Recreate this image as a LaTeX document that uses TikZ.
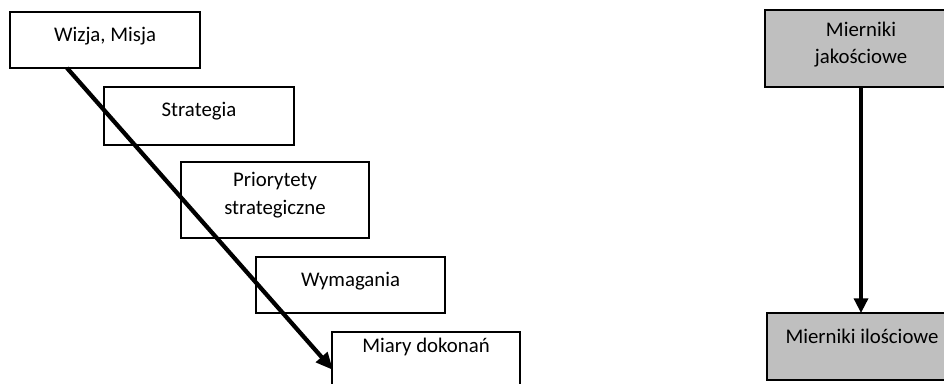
\documentclass[tikz,border=0pt]{standalone}
\usepackage{fontspec}
\setmainfont{Carlito}
\usetikzlibrary{arrows.meta,calc}
\definecolor{boxgray}{RGB}{191,191,191}
\newcommand\pxl[1]{#1*0.75pt}
\begin{document}
\begin{tikzpicture}[x=0.75pt,y=-0.75pt,
  box/.style={draw=black,line width=1.1pt,fill=white,anchor=north west,inner sep=0pt,outer sep=0pt},
  gbox/.style={box,fill=boxgray},
  lbl/.style={font=\fontsize{15.6}{20.6}\selectfont,align=center,anchor=north,inner sep=0pt,execute at begin node=\strut},
  diagarrow/.style={line width=3.2pt,-{Triangle[length=13pt,width=11pt]}},
  vertarrow/.style={line width=2.5pt,-{Triangle[length=11pt,width=10.5pt]}}
]
\clip (0,0) rectangle (944,383);
\fill[white] (0,0) rectangle (944,383);

\node[box,minimum width=\pxl{190},minimum height=\pxl{56}] (wizja) at (10,12) {};
\node[box,minimum width=\pxl{190},minimum height=\pxl{58}] (strat) at (104,87) {};
\node[box,minimum width=\pxl{188},minimum height=\pxl{76}] (prior) at (181,162) {};
\node[box,minimum width=\pxl{189},minimum height=\pxl{56}] (wym) at (256,257) {};
\node[box,minimum width=\pxl{188},minimum height=\pxl{80}] (miary) at (332,332) {};
\node[gbox,minimum width=\pxl{192},minimum height=\pxl{77}] (jak) at (765,10) {};
\node[gbox,minimum width=\pxl{190},minimum height=\pxl{67}] (ilo) at (767,313) {};

\node[lbl] (twizja) at ($(wizja.north)+(0,10)$) {Wizja, Misja};
\node[lbl] (tstrat) at ($(strat.north)+(0,10)$) {Strategia};
\node[lbl] (tprior) at ($(prior.north)+(0,10)$) {Priorytety\\strategiczne};
\node[lbl] (twym) at ($(wym.north)+(0,10)$) {Wymagania};
\node[lbl] (tmiary) at ($(miary.north)+(0,1)$) {Miary dokonań};
\node[lbl] (tjak) at ($(jak.north)+(0,11.5)$) {Mierniki\\jakościowe};
\node[lbl] (tilo) at ($(ilo.north)+(0,10.5)$) {Mierniki ilościowe};

\coordinate (dstart) at ($(wizja.south west)+(57,0)$);
\coordinate (dend) at ($(miary.north west)+(1,38)$);
\draw[diagarrow] (dstart) -- (dend);
\draw[vertarrow] (jak.south) -- (jak.south |- ilo.north);
\end{tikzpicture}
\end{document}
